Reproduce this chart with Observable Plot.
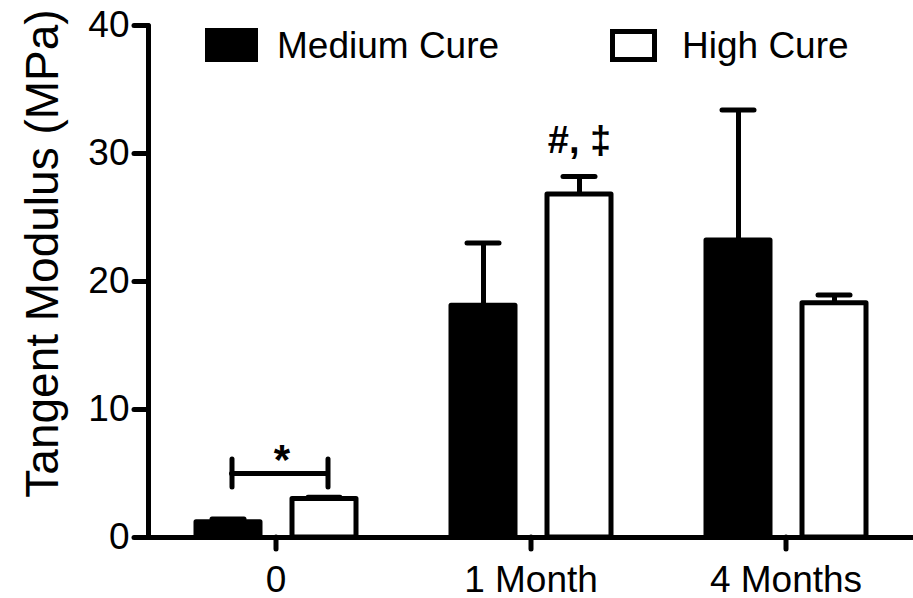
<!DOCTYPE html>
<html><head><meta charset="utf-8">
<script src="https://cdn.jsdelivr.net/npm/d3@7"></script>
<script src="https://cdn.jsdelivr.net/npm/@observablehq/plot@0.6"></script>
<style>
html,body{margin:0;padding:0;background:#fff;}
#wrap{position:relative;width:913px;height:598px;font-family:"Liberation Sans",Arial,sans-serif;}
.legend-item{position:absolute;display:flex;align-items:center;font-size:37px;color:#000;line-height:1;}
.swatch{box-sizing:border-box;display:inline-block;}
</style></head><body><div id="wrap"></div>
<script>
// ---- data ----
const groups = ["0", "1 Month", "4 Months"];
const series = ["Medium Cure", "High Cure"];
const mediumValues = [1.2, 18.1, 23.2];
const mediumErrors = [0.25, 4.9, 10.2];
const highValues = [3.0, 26.8, 18.3];
const highErrors = [0.15, 1.4, 0.65];
const yTicks = [0, 10, 20, 30, 40];
const yLabel = "Tangent Modulus (MPa)";
// significance bracket (group "0", Medium vs High) and labels
const bracketGroups = ["0"];
const bracketY = [5.0];
const bracketCapHalf = [1.1];
const starLabels = ["*"];
const starY = [6.0];
const noteGroups = ["1 Month"];
const noteSeries = ["High Cure"];
const noteLabels = ["#, \u2021"];
const noteY = [31.0];

// ---- tables ----
const data = [];
groups.forEach((g, i) => {
  data.push({time: g, series: series[0], value: mediumValues[i], err: mediumErrors[i]});
  data.push({time: g, series: series[1], value: highValues[i], err: highErrors[i]});
});
const bracket = bracketGroups.map((g, i) => ({time: g, from: series[0], to: series[1], y: bracketY[i], h: bracketCapHalf[i]}));
const bracketEnds = bracket.flatMap(b => series.map(s => ({time: b.time, series: s, y1: b.y - b.h, y2: b.y + b.h})));
const stars = bracketGroups.map((g, i) => ({time: g, y: starY[i], label: starLabels[i]}));
const notes = noteGroups.map((g, i) => ({time: g, series: noteSeries[i], y: noteY[i], label: noteLabels[i]}));

const SW = 5;
const plot = Plot.plot({
  width: 913, height: 598,
  marginTop: 25, marginBottom: 61, marginLeft: 148, marginRight: 0,
  style: {fontFamily: '"Liberation Sans", Arial, sans-serif', color: "#000", background: "#fff", overflow: "visible"},
  fx: {domain: groups, padding: 0, label: null},
  x: {domain: series, paddingInner: 0.337, paddingOuter: 0.49, axis: null},
  y: {domain: [0, 40], label: null},
  color: {domain: series, range: ["#000", "#fff"]},
  marks: [
    Plot.ruleX(data, {fx: "time", x: "series", y1: "value", y2: d => d.value + d.err, stroke: "#000", strokeWidth: SW}),
    Plot.tickY(data, {fx: "time", x: "series", y: d => d.value + d.err, stroke: "#000", strokeWidth: SW, strokeLinecap: "round", insetLeft: 16, insetRight: 16}),
    Plot.barY(data, {fx: "time", x: "series", y: "value", fill: "series", stroke: "#000", strokeWidth: SW, strokeLinejoin: "round"}),
    Plot.ruleY([0], {stroke: "#000", strokeWidth: SW}),
    Plot.frame({anchor: "left", facetAnchor: "left", stroke: "#000", strokeWidth: SW, strokeLinecap: "round"}),
    Plot.ruleY(bracket, {fx: "time", x1: "from", x2: "to", y: "y", insetLeft: 32, insetRight: 32, dx: 3.5, stroke: "#000", strokeWidth: SW, strokeLinecap: "round"}),
    Plot.ruleX(bracketEnds, {fx: "time", x: "series", y1: "y1", y2: "y2", dx: 3.5, stroke: "#000", strokeWidth: SW, strokeLinecap: "round"}),
    Plot.text(stars, {fx: "time", y: "y", text: "label", dx: 6, fontSize: 42, fontWeight: "bold", fill: "#000"}),
    Plot.text(notes, {fx: "time", x: "series", y: "y", text: "label", fontSize: 38, fontWeight: "bold", fill: "#000"}),
    Plot.axisY({ticks: yTicks, tickSize: 14, tickPadding: 5, fontSize: 37, stroke: "#000", strokeWidth: SW, strokeLinecap: "round", label: null}),
    Plot.axisFx({anchor: "bottom", tickSize: 12, tickPadding: 16, fontSize: 37, stroke: "#000", strokeWidth: SW, strokeLinecap: "round", label: null}),
    Plot.text([yLabel], {fx: () => groups[0], text: d => d, frameAnchor: "left", textAnchor: "middle", rotate: -90, dx: -105, dy: -28, fontSize: 46, fill: "#000"})
  ]
});
const wrap = document.getElementById("wrap");
wrap.appendChild(plot);

// ---- legend overlay ----
const legendPos = [{left: 205, top: 28, w: 53, h: 34, gap: 19}, {left: 610, top: 29, w: 47, h: 33, gap: 25}];
series.forEach((s, i) => {
  const p = legendPos[i];
  const item = document.createElement("div");
  item.className = "legend-item";
  item.style.left = p.left + "px";
  item.style.top = p.top + "px";
  item.style.height = p.h + "px";
  const sw = document.createElement("span");
  sw.className = "swatch";
  sw.style.width = p.w + "px";
  sw.style.height = p.h + "px";
  sw.style.background = i === 0 ? "#000" : "#fff";
  sw.style.border = "5px solid #000";
  sw.style.marginRight = p.gap + "px";
  const tx = document.createElement("span");
  tx.textContent = s;
  item.appendChild(sw);
  item.appendChild(tx);
  wrap.appendChild(item);
});
</script></body></html>
